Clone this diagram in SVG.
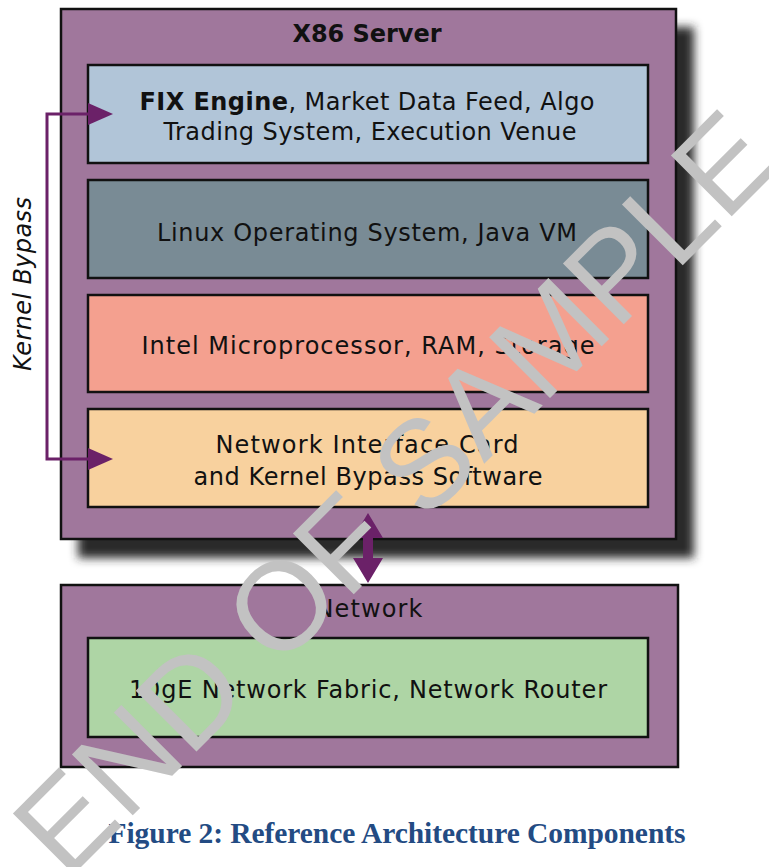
<svg xmlns="http://www.w3.org/2000/svg" width="769" height="867" viewBox="0 0 769 867">
  <style>
    .frame { fill: #a0779c; stroke: #111; stroke-width: 2.5; }
    .layer { stroke: #111; stroke-width: 2.5; }
    .lbl { font-family: "DejaVu Sans", "Open Sans", sans-serif; font-size: 24px; fill: #111; text-anchor: middle; }
    .title { font-weight: bold; }
    .link { fill: none; stroke: #6b2168; stroke-width: 3; }
    .head { fill: #6b2168; }
    .caption { font-family: "Liberation Serif", serif; font-weight: bold; font-size: 29.5px; fill: #234b83; text-anchor: middle; }
    .mark { font-family: "Liberation Sans", sans-serif; font-size: 125px; fill: #c2c2c2; text-anchor: middle; }
  </style>
  <defs>
    <filter id="soft" x="-10%" y="-10%" width="120%" height="120%">
      <feGaussianBlur stdDeviation="5"/>
    </filter>
  </defs>
  <rect width="769" height="867" fill="#fff"/>

  <!-- server enclosure with drop shadow -->
  <g id="server">
    <rect x="78" y="27" width="616" height="531" fill="#2a2a2a" filter="url(#soft)"/>
    <rect class="frame" x="61" y="9" width="615" height="530"/>
    <text class="lbl title" x="367" y="42" textLength="149">X86 Server</text>
  </g>

  <g id="apps">
    <rect class="layer" x="88" y="65" width="560" height="98" fill="#b1c5d8"/>
    <text class="lbl" x="367" y="110" textLength="455"><tspan font-weight="bold">FIX Engine</tspan>, Market Data Feed, Algo</text>
    <text class="lbl" x="370" y="140" textLength="413">Trading System, Execution Venue</text>
  </g>

  <g id="os">
    <rect class="layer" x="88" y="180" width="560" height="98" fill="#798b95"/>
    <text class="lbl" x="367" y="241" textLength="420">Linux Operating System, Java VM</text>
  </g>

  <g id="hardware">
    <rect class="layer" x="88" y="295" width="560" height="97" fill="#f4a08f"/>
    <text class="lbl" x="368" y="354" textLength="453">Intel Microprocessor, RAM, Storage</text>
  </g>

  <g id="nic">
    <rect class="layer" x="88" y="409" width="560" height="98" fill="#f8d19e"/>
    <text class="lbl" x="367" y="453" textLength="303">Network Interface Card</text>
    <text class="lbl" x="368" y="485" textLength="349">and Kernel Bypass Software</text>
  </g>

  <!-- network enclosure -->
  <g id="network">
    <rect class="frame" x="61" y="585" width="617" height="182"/>
    <text class="lbl" x="369" y="617" textLength="107">Network</text>
  </g>

  <g id="fabric">
    <rect class="layer" x="88" y="638" width="560" height="99" fill="#aed5a5"/>
    <text class="lbl" x="368" y="698" textLength="478">10gE Network Fabric, Network Router</text>
  </g>

  <g id="connectors">
    <!-- kernel bypass path from NIC straight to the application layer -->
    <polyline class="link" points="89,114 47,114 47,459 89,459"/>
    <polygon class="head" points="88,103 113,114 88,125"/>
    <polygon class="head" points="88,448 113,459 88,470"/>
    <!-- server to network, bidirectional -->
    <polygon class="head" points="368,513 383,538 373,538 373,558 383,558 368,583 353,558 363,558 363,538 353,538"/>
  </g>

  <text class="lbl" font-style="italic" transform="translate(31,284) rotate(-90)" textLength="174">Kernel Bypass</text>

  <text class="caption" x="397" y="843" textLength="577">Figure 2: Reference Architecture Components</text>

  <text class="mark" transform="translate(425,523) rotate(-45)">END OF SAMPLE</text>
</svg>
